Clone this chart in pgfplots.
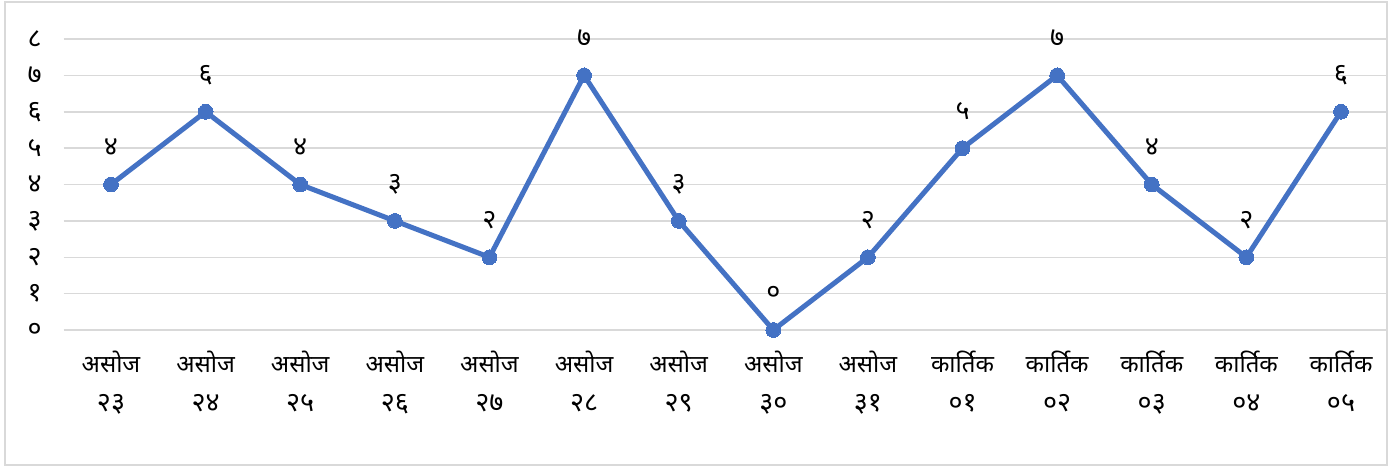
\documentclass[border=0pt]{standalone}
\usepackage{fontspec}
\setmainfont[Script=Devanagari]{Noto Sans}
\usepackage{pgfplots}
\pgfplotsset{compat=1.18}
\definecolor{lineblue}{HTML}{4472C4}
\definecolor{gridgray}{HTML}{D9D9D9}
\newcommand{\dg}[1]{{\fontsize{13.5}{14}\selectfont #1}}
\begin{document}
\begin{tikzpicture}
\path[use as bounding box] (-31.85pt,-68pt) rectangle (663.15pt,165pt);
\draw[gridgray, line width=0.75pt] (-29.35pt,-67.5pt) rectangle (661.65pt,164pt);
\begin{axis}[
  at={(0pt,0pt)}, anchor=south west,
  scale only axis,
  width=662.3pt, height=145.5pt,
  xmin=-0.5, xmax=13.5, ymin=0, ymax=8,
  axis line style={draw=none},
  tick style={draw=none},
  ymajorgrids, grid style={gridgray, line width=0.75pt},
  ytick={0,1,2,3,4,5,6,7,8},
  yticklabels={०,१,२,३,४,५,६,७,८},
  yticklabel style={anchor=center, xshift=-14.5pt, font=\fontsize{13.5}{14}\selectfont},
  xtick={0,...,13},
  xticklabels={{असोज\\\dg{२३}},{असोज\\\dg{२४}},{असोज\\\dg{२५}},{असोज\\\dg{२६}},{असोज\\\dg{२७}},{असोज\\\dg{२८}},{असोज\\\dg{२९}},{असोज\\\dg{३०}},{असोज\\\dg{३१}},{कार्तिक\\\dg{०१}},{कार्तिक\\\dg{०२}},{कार्तिक\\\dg{०३}},{कार्तिक\\\dg{०४}},{कार्तिक\\\dg{०५}}},
  xticklabel style={align=center, anchor=north, yshift=-7pt, font=\fontsize{12}{19.5}\selectfont},
  clip=false,
  point meta=explicit symbolic,
  nodes near coords,
  nodes near coords style={anchor=center, yshift=18.5pt, font=\fontsize{13.5}{14}\selectfont, text=black},
]
\addplot[lineblue, line width=2.5pt, mark=*, mark size=3.7pt, mark options={fill=lineblue, draw=lineblue, line width=0pt}] coordinates {
(0,4) [४]
(1,6) [६]
(2,4) [४]
(3,3) [३]
(4,2) [२]
(5,7) [७]
(6,3) [३]
(7,0) [०]
(8,2) [२]
(9,5) [५]
(10,7) [७]
(11,4) [४]
(12,2) [२]
(13,6) [६]
};
\end{axis}
\end{tikzpicture}
\end{document}
